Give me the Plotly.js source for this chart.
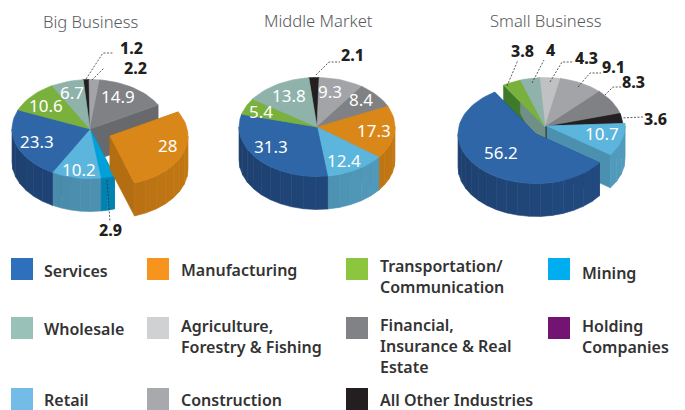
<!DOCTYPE html>
<html>
<head>
<meta charset="utf-8">
<script src="https://cdn.plot.ly/plotly-3.0.1.min.js"></script>
<style>html,body{margin:0;padding:0;background:#fff}#chart{width:685px;height:410px}</style>
</head>
<body>
<div id="chart"></div>
<script>
// ---- Data (clockwise from each pie's start angle) ----
const bigKeys = ['other','construction','financial','manufacturing','mining','retail','services','transport','wholesale'];
const bigValues = [1.2,2.2,14.9,28,2.9,10.2,23.3,10.6,6.7];
const midKeys = ['other','construction','financial','manufacturing','retail','services','transport','wholesale'];
const midValues = [2.1,9.3,8.4,17.3,12.4,31.3,5.4,13.8];
const smallKeys = ['agriculture','construction','financial','other','retail','services','transport','wholesale'];
const smallValues = [4.3,9.1,8.3,3.6,10.7,56.2,3.8,4];

const legendKeys = ['services','manufacturing','transport','mining','wholesale','agriculture','financial','holding','retail','construction','other'];
const legendLabels = ['Services','Manufacturing','Transportation/<br>Communication','Mining','Wholesale','Agriculture,<br>Forestry &amp; Fishing','Financial,<br>Insurance &amp; Real<br>Estate','Holding<br>Companies','Retail','Construction','All Other Industries'];

// ---- Styles ----
const topColor = {services:'#2e66a8',manufacturing:'#da8719',transport:'#79b13c',mining:'#00a0d9',wholesale:'#8fb3aa',agriculture:'#c0c1c3',financial:'#808184',holding:'#731472',retail:'#5cb5dc',construction:'#a3a4a7',other:'#231f20'};
const sideColor = {services:'#204679',manufacturing:'#b46e12',transport:'#3f7a2b',mining:'#0080ae',wholesale:'#6f8f88',agriculture:'#9a9b9d',financial:'#68696c',holding:'#5a105a',retail:'#4c90b0',construction:'#85868a',other:'#111011'};
const swatchColor = {services:'#2e70bc',manufacturing:'#f7941e',transport:'#8cc63f',mining:'#00aeef',wholesale:'#9ac1b8',agriculture:'#d0d1d3',financial:'#808285',holding:'#731472',retail:'#73bce8',construction:'#a7a9ac',other:'#231f20'};

// ---- Layout of the pies ----
const RX = 78, RY = 49.5, DEPTH = 33;
const pies = [
  {keys:bigKeys, values:bigValues, cx:90, cy:129, start:-5, explode:[{key:'manufacturing',dx:20,dy:7}]},
  {keys:midKeys, values:midValues, cx:317, cy:127, start:-6, explode:[]},
  {keys:smallKeys, values:smallValues, cx:545, cy:127, start:-4, explode:[{key:'retail',dx:2,dy:-1},{key:'services',dx:-9,dy:7}]}
];

const titles = [['Big Business',90,21],['Middle Market',318,20],['Small Business',546,20]];
const whiteLabels = [
  ['14.9',118,96],['28',167,145],['10.2',79,169],['23.3',37,141],['10.6',46,105],['6.7',72,92],
  ['9.3',330,91],['8.4',361,99],['17.3',374,130],['12.4',344,160],['31.3',271,146],['5.4',261,111],['13.8',289,95],
  ['10.7',602,133],['56.2',501,152]
];
const blackLabels = [
  ['1.2',131,48],['2.2',135,68],['2.9',110,230],['2.1',352,55],
  ['3.8',522,51],['4',550,50],['4.3',586,58],['9.1',613,67],['8.3',633,82],['3.6',655,119]
];
const leaders = [
  [[86,79],[103,53],[113,53]],[[92,80],[104,68]],[[107,180],[110,222]],
  [[316,75],[329,62],[340,62]],
  [[507,86],[518,60]],[[532,83],[544,60]],[[550,82],[562,62],[573,62]],
  [[578,87],[590,73],[601,73]],[[605,95],[613,87],[622,87]],[[620,118],[643,117]]
];
const legendCols = [11,147,346,548], legendTextX = [42.5,179.5,378.5,580.5];
const legendSwatchY = [258,317,388];
const legendTextY = [[271,270,276,273],[329,336,346,336],[400,400,400]];

// ---- Helpers ----
const rad = d => d*Math.PI/180;
const px = (c,t) => [c.x + RX*Math.sin(rad(t)), c.y - RY*Math.cos(rad(t))];
function shade(hex,f){
  const n=parseInt(hex.slice(1),16);
  const ch=[n>>16,(n>>8)&255,n&255].map(v=>Math.max(0,Math.min(255,Math.round(v*f))));
  return 'rgb('+ch.join(',')+')';
}
const traces = [];
function poly(points,color){
  const xs=points.map(p=>p[0]).concat(points[0][0]);
  const ys=points.map(p=>p[1]).concat(points[0][1]);
  traces.push({type:'scatter',mode:'lines',x:xs,y:ys,fill:'toself',fillcolor:color,
    line:{color:color,width:0.6},hoverinfo:'skip',showlegend:false});
}
function arc(c,t1,t2){
  const n=Math.max(2,Math.ceil((t2-t1)/3)), out=[];
  for(let i=0;i<=n;i++) out.push(px(c,t1+(t2-t1)*i/n));
  return out;
}
function cutFaces(w){
  [w.t1,w.t2].forEach(t=>{
    const r=px(w.c,t);
    poly([[w.c.x,w.c.y],r,[r[0],r[1]+DEPTH],[w.c.x,w.c.y+DEPTH]],sideColor[w.key]);
  });
}
function rimWall(w){
  // only the front half of the rim (90..270 deg) can be seen; drawn in strips for the facet look
  for(let k=-1;k<=1;k++){
    const a=Math.max(w.t1+360*k,90), b=Math.min(w.t2+360*k,270);
    if(b<=a) continue;
    const n=Math.ceil((b-a)/9);
    for(let i=0;i<n;i++){
      const s=a+(b-a)*i/n, e=a+(b-a)*(i+1)/n, m=(s+e)/2;
      const upper=arc(w.c,s,e), lower=upper.slice().reverse().map(p=>[p[0],p[1]+DEPTH]);
      poly(upper.concat(lower),shade(sideColor[w.key],1+0.08*Math.sin(rad(m))));
    }
  }
}
function topFace(w){
  poly([[w.c.x,w.c.y]].concat(arc(w.c,w.t1,w.t2)),topColor[w.key]);
}
pies.forEach(p=>{
  let t=p.start; const main=[],loose=[];
  const total=p.values.reduce((a,b)=>a+b,0);
  p.keys.forEach((key,i)=>{
    const sweep=p.values[i]/total*360;
    const ex=p.explode.find(e=>e.key===key);
    const c={x:p.cx+(ex?ex.dx:0),y:p.cy+(ex?ex.dy:0)};
    const w={key,t1:t,t2:t+sweep,c};
    (ex?loose:main).push(w);
    t+=sweep;
  });
  main.forEach(cutFaces); main.forEach(rimWall); main.forEach(topFace);
  p.explode.forEach(e=>{
    const w=loose.find(l=>l.key===e.key);
    cutFaces(w); rimWall(w); topFace(w);
  });
});
leaders.forEach(l=>traces.push({type:'scatter',mode:'lines',x:l.map(p=>p[0]),y:l.map(p=>p[1]),
  line:{color:'#333',width:0.8,dash:'2px,1.5px'},hoverinfo:'skip',showlegend:false}));

// ---- Text ----
const annotations=[];
function note(text,x,y,size,color,weight,xanchor){
  annotations.push({text,x,y,xref:'x',yref:'y',showarrow:false,xanchor:xanchor||'center',yanchor:'middle',align:'left',
    font:{family:'"Noto Sans", sans-serif',size,color,weight:weight||400},borderpad:0});
}
titles.forEach(a=>note(a[0],a[1],a[2],16.6,'#58595b',300));
whiteLabels.forEach(a=>note(a[0],a[1],a[2],17,'#ffffff',400));
blackLabels.forEach(a=>note(a[0],a[1],a[2],16,'#231f20',800));

const shapes=[];
legendKeys.forEach((key,i)=>{
  let row,col;
  if(i<4){row=0;col=i;} else if(i<8){row=1;col=i-4;} else {row=2;col=i-8;}
  const cx=(i===10)?2:col;
  shapes.push({type:'rect',xref:'x',yref:'y',x0:legendCols[cx],x1:legendCols[cx]+22,
    y0:legendSwatchY[row],y1:legendSwatchY[row]+22,fillcolor:swatchColor[key],line:{width:0}});
  note(legendLabels[i],legendTextX[cx],legendTextY[row][col],16,'#333333',600,'left');
});

Plotly.newPlot('chart',traces,{
  width:685,height:410,margin:{l:0,r:0,t:0,b:0},showlegend:false,
  paper_bgcolor:'#ffffff',plot_bgcolor:'#ffffff',
  xaxis:{range:[0,685],visible:false,fixedrange:true},
  yaxis:{range:[410,0],visible:false,fixedrange:true},
  shapes,annotations
},{displayModeBar:false,staticPlot:true});
</script>
</body>
</html>
